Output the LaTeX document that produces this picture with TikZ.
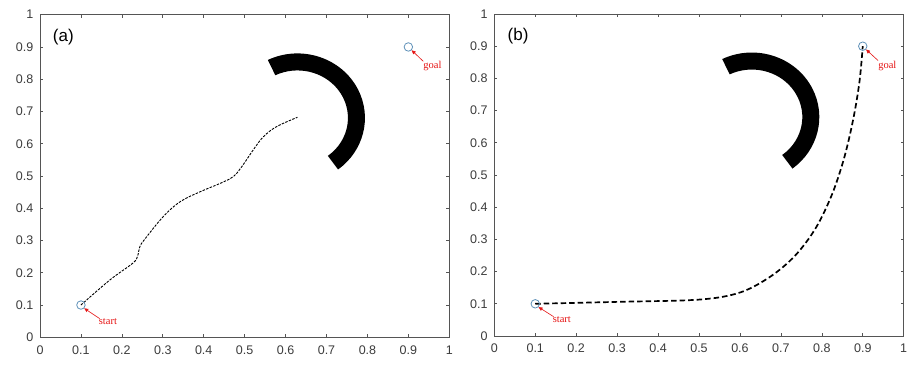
\documentclass[tikz,border=0pt]{standalone}
\usepackage{fontspec}
\setmainfont{Liberation Sans}
\newfontfamily\serifred{Liberation Serif}
\usetikzlibrary{arrows.meta}
\definecolor{axgray}{RGB}{85,85,85}
\definecolor{txtgray}{RGB}{60,60,60}
\definecolor{markblue}{RGB}{95,145,185}
\definecolor{lblred}{RGB}{230,20,20}
\tikzset{
  frame/.style={draw=axgray, line width=0.8pt},
  tickmark/.style={draw=axgray, line width=0.6pt},
  ticklbl/.style={font=\fontsize{12.5}{13}\selectfont, text=txtgray, inner sep=0pt},
  panel/.style={font=\fontsize{17}{18}\selectfont, text=black, inner sep=0pt},
  endpt/.style={circle, draw=markblue, line width=0.8pt, minimum size=8.5pt, inner sep=0pt},
  redlbl/.style={font=\serifred\fontsize{10.5}{11}\selectfont, text=lblred, inner sep=1pt},
  redarrow/.style={draw=lblred, line width=0.6pt, -{Triangle[length=4pt,width=3.5pt]}},
  obstacle/.style={fill=black},
  pathA/.style={draw=black, line width=0.9pt, dash pattern=on 2.5pt off 1.3pt},
  pathB/.style={draw=black, line width=1.7pt, dash pattern=on 5.5pt off 3pt}
}
\newcommand{\axesframe}[1]{%
  \draw[frame] (0,0) rectangle (1,1);
  \foreach \t in {0.1,0.2,0.3,0.4,0.5,0.6,0.7,0.8,0.9}{
    \draw[tickmark] (\t,0) -- ++(0pt,3pt);
    \draw[tickmark] (\t,1) -- ++(0pt,-3pt);
    \draw[tickmark] (0,\t) -- ++(3pt,0pt);
    \draw[tickmark] (1,\t) -- ++(-3pt,0pt);
  }
  \foreach \t/\l/\n in {0/0/0,0.1/0.1/1,0.2/0.2/2,0.3/0.3/3,0.4/0.4/4,0.5/0.5/5,0.6/0.6/6,0.7/0.7/7,0.8/0.8/8,0.9/0.9/9,1/1/10}{
    \node[ticklbl, anchor=north] (#1x\n) at ([yshift=-8pt]\t,0) {\l};
    \node[ticklbl, anchor=east] (#1y\n) at ([xshift=-6.5pt]0,\t) {\l};
  }
}
\newcommand{\obstacleshape}{%
  \fill[obstacle, shift={(0.629,0.68)}]
    (116:67.5pt and 64.5pt)
    arc[start angle=116, end angle=-53, x radius=67.5pt, y radius=64.5pt]
    -- (-53:50.5pt and 47.5pt)
    arc[start angle=-53, end angle=116, x radius=50.5pt, y radius=47.5pt]
    -- cycle;
}
\begin{document}
\begin{tikzpicture}[x=1pt,y=1pt]
\useasboundingbox (0,0) rectangle (919,370);
\fill[white] (0,0) rectangle (919,370);
% ---------------- panel (a)
\begin{scope}[shift={(40,32.7)}, x=409.3pt, y=322.6pt]
  \axesframe{a}
  \node[panel] (lbla) at (0.057,0.93) {(a)};
  \obstacleshape
  \draw[pathA] plot[smooth, tension=0.6] coordinates {
    (0.1,0.1) (0.171,0.178) (0.226,0.229) (0.238,0.250) (0.244,0.281)
    (0.256,0.304) (0.301,0.374) (0.342,0.420) (0.391,0.451) (0.440,0.477)
    (0.472,0.498) (0.493,0.529) (0.521,0.581) (0.546,0.622) (0.578,0.653) (0.629,0.682)};
  \node[endpt] (sa) at (0.1,0.1) {};
  \node[endpt] (ga) at (0.9,0.9) {};
  \node[redlbl] (sla) at (0.166,0.048) {start};
  \node[redlbl] (gla) at (0.959,0.84) {goal};
\end{scope}
\draw[redarrow] ([xshift=2pt,yshift=-1pt]sla.north west) -- (sa.south east);
\draw[redarrow] ([xshift=1pt,yshift=-1pt]gla.north west) -- (ga.south east);
% ---------------- panel (b)
\begin{scope}[shift={(494.3,34)}, x=409.4pt, y=322pt]
  \axesframe{b}
  \node[panel] (lblb) at (0.058,0.93) {(b)};
  \obstacleshape
  \draw[pathB] plot[smooth, tension=0.55] coordinates {
    (0.1,0.1) (0.3,0.106) (0.5,0.113) (0.6,0.135) (0.675,0.185)
    (0.735,0.25) (0.785,0.335) (0.825,0.44) (0.855,0.555) (0.877,0.675)
    (0.892,0.79) (0.9,0.9)};
  \node[endpt] (sb) at (0.1,0.1) {};
  \node[endpt] (gb) at (0.9,0.9) {};
  \node[redlbl] (slb) at (0.165,0.05) {start};
  \node[redlbl] (glb) at (0.96,0.84) {goal};
\end{scope}
\draw[redarrow] ([xshift=2pt,yshift=-1pt]slb.north west) -- (sb.south east);
\draw[redarrow] ([xshift=1pt,yshift=-1pt]glb.north west) -- (gb.south east);
\end{tikzpicture}
\end{document}
